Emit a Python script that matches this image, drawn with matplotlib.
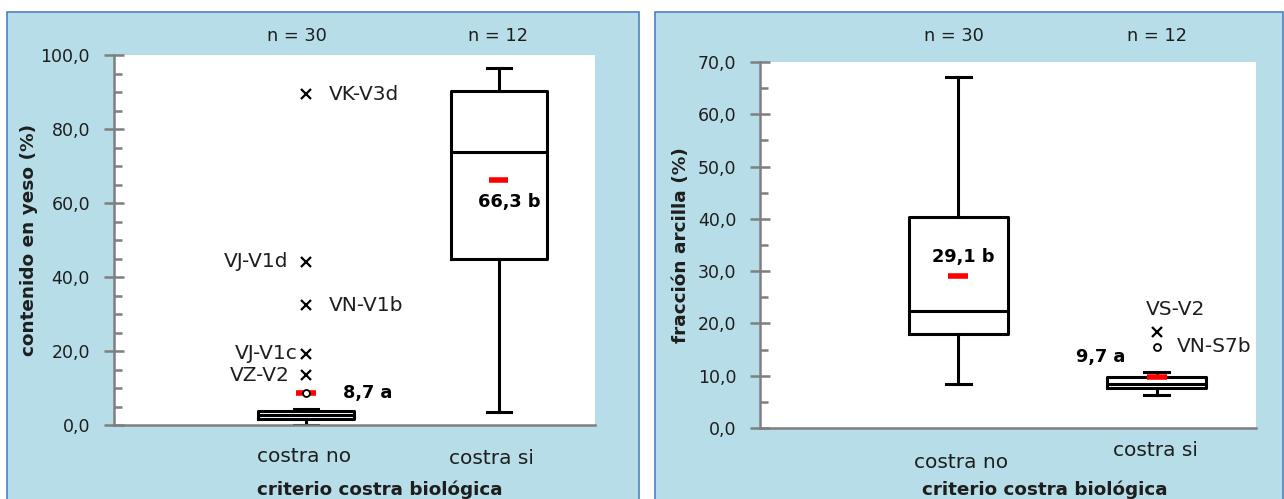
"""
Box plots: contenido en yeso y fraccion arcilla segun criterio costra biologica
"""
import matplotlib
matplotlib.use("Agg")
import matplotlib.pyplot as plt
import matplotlib.transforms as mtransforms
from matplotlib.patches import Rectangle
from matplotlib.ticker import MultipleLocator, FuncFormatter

plt.rcParams["font.family"] = ["DejaVu Sans"]

categorias = ["costra no", "costra si"]
n_muestras = [30, 12]
letras = ["a", "b"]

# contenido en yeso (%)
yeso_min = [0.0, 3.4]
yeso_q1 = [1.5, 44.9]
yeso_med = [2.7, 73.9]
yeso_q3 = [3.8, 90.4]
yeso_max = [4.3, 96.4]
yeso_media = [8.7, 66.3]
yeso_ext_nombres = ["VK-V3d", "VJ-V1d", "VN-V1b", "VJ-V1c", "VZ-V2"]
yeso_ext_valores = [89.4, 44.1, 32.4, 19.2, 13.5]
yeso_ext_grupo = [0, 0, 0, 0, 0]
yeso_atip_valores = [8.6]
yeso_atip_grupo = [0]

# fraccion arcilla (%)
arc_min = [8.4, 6.4]
arc_q1 = [17.9, 7.7]
arc_med = [22.4, 8.5]
arc_q3 = [40.3, 9.8]
arc_max = [67.1, 10.8]
arc_media = [29.1, 9.7]
arc_ext_nombres = ["VS-V2"]
arc_ext_valores = [18.4]
arc_ext_grupo = [1]
arc_atip_nombres = ["VN-S7b"]
arc_atip_valores = [15.5]
arc_atip_grupo = [1]

W, H = 1284, 499
FONDO = "#b7dde8"
BORDE = "#4f81bd"
GRIS = "#7f7f7f"
TEXTO = "#1e1e1e"
posiciones = [2, 4]

fig = plt.figure(figsize=(W / 100, H / 100), dpi=100)
fig.patch.set_facecolor("white")

# paneles de fondo (cortados por abajo, como en el original)
for x0, x1 in [(7, 639), (655, 1283)]:
    fig.patches.append(Rectangle((x0 / W, -0.1), (x1 - x0) / W, 1.1 - 12 / H,
                                 transform=fig.transFigure, facecolor=FONDO,
                                 edgecolor=BORDE, linewidth=1.2, zorder=-5))


def px(x, y):
    return x / W, 1 - y / H


def fmt(v, letra):
    return f"{v:.1f} {letra}".replace(".", ",")


def preparar_eje(ax, ymax, mayor, etiqueta, xlab):
    ax.set_facecolor("white")
    ax.set_xlim(0, 5)
    ax.set_ylim(0, ymax)
    for s in ["top", "right"]:
        ax.spines[s].set_visible(False)
    for s in ["left", "bottom"]:
        ax.spines[s].set_color(GRIS)
        ax.spines[s].set_linewidth(1.8)
    ax.set_xticks([])
    ax.yaxis.set_major_locator(MultipleLocator(mayor))
    ax.yaxis.set_minor_locator(MultipleLocator(5))
    ax.yaxis.set_major_formatter(FuncFormatter(lambda v, p: f"{v:.1f}".replace(".", ",")))
    ax.tick_params(axis="y", which="major", direction="inout", length=14, width=1.8,
                   color=GRIS, labelsize=12.5, labelcolor=TEXTO, pad=10)
    ax.tick_params(axis="y", which="minor", direction="in", length=6, width=1.8, color=GRIS)
    ax.set_ylabel(etiqueta, fontsize=13.3, fontweight="bold", color=TEXTO, va="center")
    ax.yaxis.set_label_coords(xlab, 0.5)


def cajas(ax, q1, med, q3, lo, hi, media):
    stats = []
    for i in range(len(q1)):
        stats.append({"q1": q1[i], "med": med[i], "q3": q3[i],
                      "whislo": lo[i], "whishi": hi[i], "fliers": []})
    negro = {"color": "black", "linewidth": 2.2}
    ax.bxp(stats, positions=posiciones, widths=1.0, capwidths=0.25,
           showfliers=False, manage_ticks=False, boxprops=negro,
           whiskerprops=negro, capprops=negro, medianprops=negro)
    ax.hlines(media, [p - 0.1 for p in posiciones], [p + 0.1 for p in posiciones],
              color="red", linewidth=4, zorder=4)
    ax.set_xlim(0, 5)
    ax.set_xticks([])


def categorias_y_n(ax, x_cat, y_cat, x_n, x_tit, y_n=36, y_tit=490):
    tr = mtransforms.blended_transform_factory(ax.transData, fig.transFigure)
    for i in range(len(categorias)):
        ax.text(x_cat[i], 1 - y_cat[i] / H, categorias[i], transform=tr, ha="center",
                va="center", fontsize=14.5, color=TEXTO, clip_on=False)
        ax.text(x_n[i], 1 - y_n / H, f"n = {n_muestras[i]}", transform=tr,
                ha="center", va="center", fontsize=12.8, color=TEXTO, clip_on=False)
    ax.text(x_tit, 1 - y_tit / H, "criterio costra biológica", transform=tr,
            fontsize=13.2, fontweight="bold", color=TEXTO, ha="center", va="center")


# ---------- panel izquierdo: yeso ----------
x0, y1 = px(113.5, 55)
x1, y0 = px(595, 425)
ax1 = fig.add_axes([x0, y0, x1 - x0, y1 - y0])
preparar_eje(ax1, 100, 20, "contenido en yeso (%)", -(113.5 - 29) / (595 - 113.5))
cajas(ax1, yeso_q1, yeso_med, yeso_q3, yeso_min, yeso_max, yeso_media)
ax1.plot([posiciones[g] for g in yeso_ext_grupo], yeso_ext_valores, "x",
         color="black", markersize=6.5, markeredgewidth=1.6, zorder=5)
ax1.plot([posiciones[g] for g in yeso_atip_grupo], yeso_atip_valores, "o",
         color="black", markerfacecolor="white", markersize=5,
         markeredgewidth=1.3, zorder=5)
# etiquetas de extremos: a la derecha o a la izquierda del punto
lado = ["der", "izq", "der", "izq", "izq"]
dx = [0.24, -0.18, 0.24, -0.09, -0.17]
for nombre, v, g, l, d in zip(yeso_ext_nombres, yeso_ext_valores, yeso_ext_grupo, lado, dx):
    ax1.text(posiciones[g] + d, v, nombre, ha="left" if l == "der" else "right",
             va="center", fontsize=14.5, color=TEXTO)
ax1.text(2.38, yeso_media[0], fmt(yeso_media[0], letras[0]),
         ha="left", va="center", fontsize=12.8, fontweight="bold", color="black")
ax1.text(4.11, yeso_media[1] - 6.0, fmt(yeso_media[1], letras[1]),
         ha="center", va="center", fontsize=12.8, fontweight="bold", color="black")
categorias_y_n(ax1, [1.98, 3.92], [457, 459], [1.905, 3.99], 2.77)

# ---------- panel derecho: arcilla ----------
x0, y1 = px(760, 62)
x1, y0 = px(1256, 428)
ax2 = fig.add_axes([x0, y0, x1 - x0, y1 - y0])
preparar_eje(ax2, 70, 10, "fracción arcilla (%)", -(760 - 681) / (1256 - 760))
cajas(ax2, arc_q1, arc_med, arc_q3, arc_min, arc_max, arc_media)
ax2.plot([posiciones[g] for g in arc_ext_grupo], arc_ext_valores, "x",
         color="black", markersize=6.5, markeredgewidth=1.6, zorder=5)
ax2.plot([posiciones[g] for g in arc_atip_grupo], arc_atip_valores, "o",
         color="black", markerfacecolor="white", markersize=5,
         markeredgewidth=1.3, zorder=5)
ax2.text(posiciones[arc_ext_grupo[0]] + 0.19, arc_ext_valores[0] + 4.2,
         arc_ext_nombres[0], ha="center", va="center", fontsize=14.5, color=TEXTO)
ax2.text(posiciones[arc_atip_grupo[0]] + 0.2, arc_atip_valores[0],
         arc_atip_nombres[0], ha="left", va="center", fontsize=14.5, color=TEXTO)
ax2.text(2.05, arc_media[0] + 3.6, fmt(arc_media[0], letras[1]),
         ha="center", va="center", fontsize=12.8, fontweight="bold", color="black")
ax2.text(3.43, arc_media[1] + 3.9, fmt(arc_media[1], letras[0]),
         ha="center", va="center", fontsize=12.8, fontweight="bold", color="black")
categorias_y_n(ax2, [2.03, 3.99], [462.5, 450.5], [1.95, 4.0], 2.87)

fig.savefig("out.png", dpi=100)
